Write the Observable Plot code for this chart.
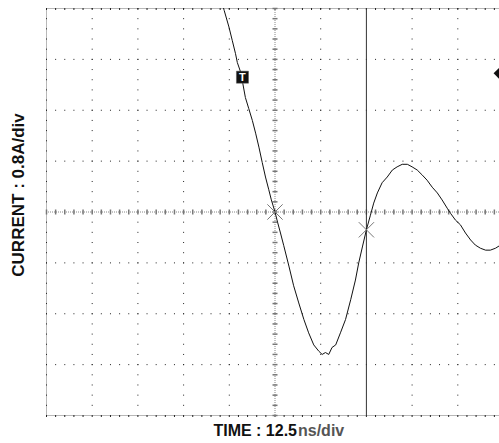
<!DOCTYPE html>
<html>
<head>
<meta charset="utf-8">
<script src="https://cdn.jsdelivr.net/npm/d3@7"></script>
<script src="https://cdn.jsdelivr.net/npm/@observablehq/plot@0.6"></script>
<style>
  html, body { margin: 0; padding: 0; background: #fff; overflow: hidden; }
  #chart { width: 499px; height: 443px; overflow: hidden; }
  #chart svg { overflow: hidden; }
</style>
</head>
<body>
<div id="chart"></div>
<script>
// Scope screen settings
const timePerDiv = 12.5;    // ns per division
const currentPerDiv = 0.8;  // A per division
const hDivs = 10;
const vDivs = 8;

// Captured current trace: time (ns) and current (A)
const traceTime = [47.1, 48.6, 49.9, 50.8, 51.7, 52.2, 53.1, 53.7, 54.4, 55.3, 56.3, 57.2, 58.1, 59.0, 59.9, 60.8, 61.5, 62.5,
  63.2, 64.0, 64.9, 66.3, 67.6, 69.0, 70.4, 71.7, 73.1, 74.5, 75.4, 76.3, 77.2, 78.1, 79.1, 80.4, 81.8, 83.2, 84.5, 85.4, 86.4, 87.5,
  88.6, 89.5, 90.5, 91.8, 93.2, 94.6, 95.9, 97.3, 98.7, 100.0, 101.4, 102.8, 104.1, 105.5, 106.9, 108.2, 109.6, 110.5,
  111.9, 113.2, 114.6, 116.0, 117.3, 118.7, 120.1, 121.4, 122.8, 123.9, 125.0];
const traceCurrent = [3.48, 3.17, 2.91, 2.70, 2.49, 2.35, 2.20, 2.02, 1.80, 1.63, 1.44, 1.24, 1.02, 0.78, 0.55, 0.35, 0.19, 0.00,
  -0.16, -0.33, -0.53, -0.85, -1.16, -1.43, -1.69, -1.90, -2.09, -2.19, -2.24, -2.21, -2.24, -2.13, -2.09, -1.90, -1.69, -1.38, -1.07, -0.80, -0.55, -0.28,
  -0.05, 0.14, 0.30, 0.46, 0.55, 0.66, 0.71, 0.75, 0.75, 0.71, 0.66, 0.58, 0.50, 0.39, 0.30, 0.19, 0.06, -0.02,
  -0.13, -0.20, -0.33, -0.44, -0.52, -0.57, -0.60, -0.60, -0.57, -0.53, -0.50];

// Cursor crossing markers
const crossTime = [62.5, 87.5];
const crossCurrent = [0, -0.28];

// Vertical time cursor
const cursorTime = [87.5];

// Trigger point marker and level indicator
const triggerTime = [53.6];
const triggerCurrent = [2.12];
const triggerText = ["T"];
const levelTime = [124.2];
const levelCurrent = [2.18];

// Axis captions
const xCaption = "TIME : 12.5";
const xUnit = "ns/div";
const yCaption = "CURRENT : 0.8A/div";

const W = 499, H = 443;
const mLeft = 46, mRight = -4, mTop = 8, mBottom = 28;
const tMax = timePerDiv * hDivs;
const iMax = currentPerDiv * vDivs / 2;
const tCenter = tMax / 2;

const trace = traceTime.map((t, k) => ({t, i: traceCurrent[k]}));
const crosses = crossTime.map((t, k) => ({t, i: crossCurrent[k]}));
const trigger = triggerTime.map((t, k) => ({t, i: triggerCurrent[k], s: triggerText[k]}));
const level = levelTime.map((t, k) => ({t, i: levelCurrent[k]}));

// graticule
const xPxDiv = (W - mLeft - mRight) / hDivs;
const yPxDiv = (H - mTop - mBottom) / vDivs;
const gridT = d3.range(0, tMax + 1e-9, timePerDiv).filter(t => t !== tCenter && !cursorTime.includes(t));
const gridI = d3.range(-iMax, iMax + 1e-9, currentPerDiv).map(v => +v.toFixed(3)).filter(v => v !== 0);
const minorT = d3.range(0, tMax + 1e-9, timePerDiv / 5);
const minorI = d3.range(-iMax, iMax + 1e-9, currentPerDiv / 5);

const vTick = {draw(ctx) { ctx.moveTo(0, -2.5); ctx.lineTo(0, 2.5); }};
const hTick = {draw(ctx) { ctx.moveTo(-2.5, 0); ctx.lineTo(2.5, 0); }};

const font = "'Liberation Sans', Arial, Helvetica, sans-serif";

const chart = Plot.plot({
  width: W,
  height: H,
  marginLeft: mLeft,
  marginRight: mRight,
  marginTop: mTop,
  marginBottom: mBottom,
  style: {background: "#fff", fontFamily: font, overflow: "hidden"},
  x: {domain: [0, tMax], axis: null},
  y: {domain: [-iMax, iMax], axis: null},
  marks: [
    Plot.frame({stroke: "#b8b8b8"}),
    // dotted division lines
    Plot.ruleY(gridI, {stroke: "#222", strokeDasharray: `1 ${xPxDiv / 5 - 1}`}),
    Plot.ruleY([-iMax, iMax], {stroke: "#222", strokeDasharray: `1 ${xPxDiv / 5 - 1}`, dy: 1}),
    Plot.ruleX(gridT, {stroke: "#222", strokeDasharray: `1 ${yPxDiv / 5 - 1}`}),
    // centre axes with minor ticks
    Plot.ruleY([0], {stroke: "#888", strokeDasharray: "1 1"}),
    Plot.ruleX([tCenter], {stroke: "#888", strokeDasharray: "1 1"}),
    Plot.dot(minorT, {x: d => d, y: 0, symbol: vTick, stroke: "#777", fill: "none", r: 3}),
    Plot.dot(minorI, {x: tCenter, y: d => d, symbol: hTick, stroke: "#777", fill: "none", r: 3}),
    // time cursor
    Plot.ruleX(cursorTime, {stroke: "#333", strokeWidth: 1}),
    // current trace
    Plot.line(trace, {x: "t", y: "i", stroke: "#111", strokeWidth: 1, clip: true}),
    // crossing markers
    Plot.dot(crosses, {x: "t", y: "i", symbol: "times", r: 7, stroke: "#777", strokeWidth: 1}),
    // trigger marker
    Plot.dot(trigger, {x: "t", y: "i", symbol: "square", r: 6.8, fill: "#111", stroke: "#555", strokeWidth: 0.5}),
    Plot.text(trigger, {x: "t", y: "i", text: "s", fill: "#fff", fontSize: 11, fontWeight: "bold", dy: 0.5}),
    // level indicator at the right edge
    Plot.dot(level, {x: "t", y: "i", symbol: d3.symbolDiamond2, r: 6.3, fill: "#111", stroke: "none"}),
    // captions
    Plot.text([yCaption], {frameAnchor: "left", textAnchor: "middle", rotate: -90, dx: -28, dy: -17, fontSize: 17, fontWeight: "bold", fill: "#111"}),
    Plot.text([xCaption], {frameAnchor: "bottom", textAnchor: "end", dx: 22, dy: 20, fontSize: 16, fontWeight: "bold", fill: "#111"}),
    Plot.text([xUnit], {frameAnchor: "bottom", textAnchor: "start", dx: 23, dy: 20, fontSize: 16, fontWeight: "bold", fill: "#555"})
  ]
});

document.getElementById("chart").appendChild(chart);
</script>
</body>
</html>
